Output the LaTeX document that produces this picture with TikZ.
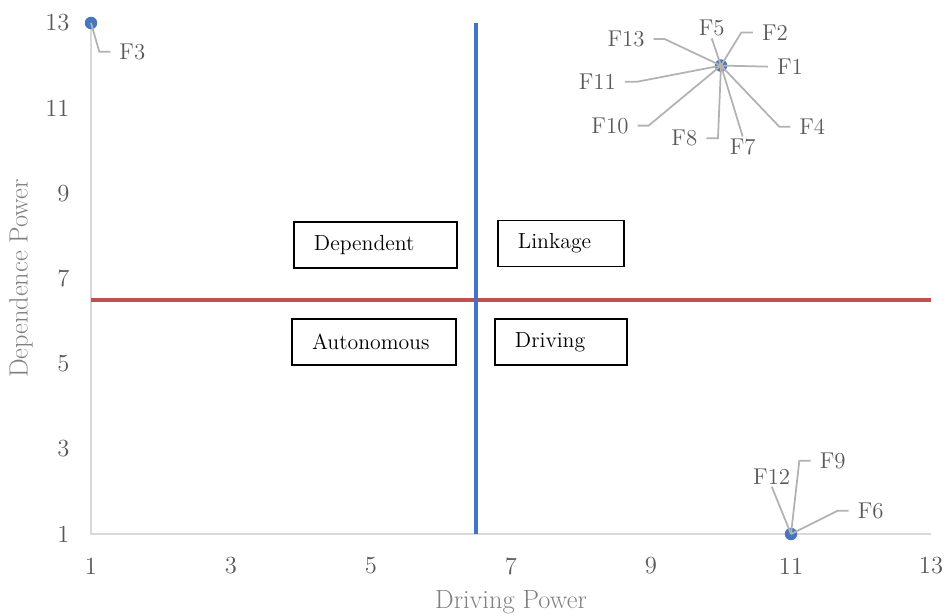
\documentclass[tikz,border=0pt]{standalone}
\usepackage{tikz}
\usepackage{xcolor}
\usetikzlibrary{positioning,calc}
\definecolor{axisgray}{RGB}{217,217,217}
\definecolor{leadergray}{RGB}{178,178,178}
\definecolor{ticktext}{RGB}{89,89,89}
\definecolor{titletext}{RGB}{128,128,128}
\definecolor{splitblue}{RGB}{68,114,196}
\definecolor{splitred}{RGB}{192,80,77}
\definecolor{dotblue}{RGB}{71,118,189}

\begin{document}
\begin{tikzpicture}[x=1.4cm, y=0.8517cm,
    pt/.style={circle, fill=dotblue, inner sep=0pt, minimum size=0.25cm},
    flabel/.style={text=ticktext, font=\fontsize{13}{15}\selectfont, inner xsep=5pt, inner ysep=1pt},
    tick/.style={text=ticktext, font=\fontsize{14}{16}\selectfont},
    leader/.style={leadergray, line width=1pt},
    quadbox/.style={draw=black, line width=0.9pt, minimum height=0.92cm, inner xsep=0.4cm, align=left, font=\fontsize{12.4}{15}\selectfont}]
    \useasboundingbox (-0.3,-0.902) rectangle (13.2,13.54);
    % Axes
    \draw[axisgray, line width=1pt] (1,13) -- (1,1) -- (13,1);
    \foreach \v in {1,3,...,13} {
        \node[tick, anchor=east] (yt\v) at (0.78,\v) {\v};
        \node[tick] (xt\v) at (\v,0.25) {\v};
    }
    \node[text=titletext, font=\fontsize{15}{18}\selectfont] (xtitle) at (7,-0.6) {Driving Power};
    \node[text=titletext, font=\fontsize{15}{18}\selectfont, rotate=90] (ytitle) at (0,7) {Dependence Power};
    % Quadrant split lines
    \draw[splitred, line width=2.3pt] (1,6.5) -- (13,6.5);
    \draw[splitblue, line width=2.8pt] (6.5,1) -- (6.5,13);
    % Quadrant labels
    \node[quadbox, text width=2.46cm] (dep) at (5.064,7.788) {Dependent};
    \node[quadbox, text width=1.72cm] (link) at (7.714,7.823) {Linkage};
    \node[quadbox, text width=2.48cm] (auto) at (5.043,5.51) {Autonomous};
    \node[quadbox, text width=1.84cm] (drive) at (7.714,5.51) {Driving};
    % Data points
    \node[pt] (p3) at (1,13) {};
    \node[pt] (hub) at (10,12) {};
    \node[pt] (low) at (11,1) {};
    % Data labels
    \node[flabel] (f3) at (1.59,12.327) {F3};
    \node[flabel] (f13) at (8.643,12.626) {F13};
    \node[flabel] (f5) at (9.867,12.877) {F5};
    \node[flabel] (f2) at (10.771,12.774) {F2};
    \node[flabel] (f1) at (10.986,11.975) {F1};
    \node[flabel] (f11) at (8.233,11.623) {F11};
    \node[flabel] (f10) at (8.414,10.59) {F10};
    \node[flabel] (f8) at (9.476,10.294) {F8};
    \node[flabel] (f7) at (10.31,10.096) {F7};
    \node[flabel] (f4) at (11.304,10.566) {F4};
    \node[flabel] (f12) at (10.724,2.346) {F12};
    \node[flabel] (f9) at (11.596,2.722) {F9};
    \node[flabel] (f6) at (12.139,1.548) {F6};
    % Leader lines
    \draw[leader] (f3.west) -- ++(-0.157,0) -- (p3.center);
    \draw[leader] (f13.east) -- ++(0.153,0) -- (hub.center);
    \draw[leader] (f5.south) -- (hub.center);
    \draw[leader] (f2.west) -- ++(-0.167,0) -- (hub.center);
    \draw[leader] (f1.west) -- (hub.center);
    \draw[leader] (f11.east) -- ++(0.182,0) -- (hub.center);
    \draw[leader] (f10.east) -- ++(0.157,0) -- (hub.center);
    \draw[leader] (f8.east) -- ++(0.166,0) -- (hub.center);
    \draw[leader] (f7.north) -- (hub.center);
    \draw[leader] (f4.west) -- ++(-0.157,0) -- (hub.center);
    \draw[leader] (f12.south) -- (low.center);
    \draw[leader] (f9.west) -- ++(-0.162,0) -- (low.center);
    \draw[leader] (f6.west) -- ++(-0.157,0) -- (low.center);
\end{tikzpicture}
\end{document}
